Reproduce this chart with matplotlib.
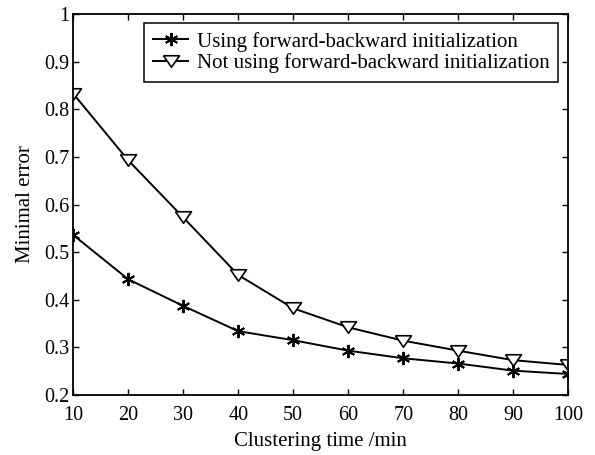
import numpy as np
import matplotlib
matplotlib.use('Agg')
import matplotlib.pyplot as plt

# Data
cluster_time = [10, 20, 30, 40, 50, 60, 70, 80, 90, 100]
err_fb_init = [0.536, 0.443, 0.387, 0.334, 0.315, 0.293, 0.277, 0.266, 0.251, 0.244]
err_no_fb_init = [0.833, 0.693, 0.573, 0.452, 0.382, 0.342, 0.314, 0.293, 0.273, 0.263]
label_fb = 'Using forward-backward initialization'
label_no_fb = 'Not using forward-backward initialization'
x_ticks = [10, 20, 30, 40, 50, 60, 70, 80, 90, 100]
y_ticks = [0.2, 0.3, 0.4, 0.5, 0.6, 0.7, 0.8, 0.9, 1.0]
y_tick_labels = ['0.2', '0.3', '0.4', '0.5', '0.6', '0.7', '0.8', '0.9', '1']

plt.rcParams['font.family'] = ['Liberation Serif', 'DejaVu Serif']

# wide, flat triangle like the original
tri_marker = [(-1.0, 0.72), (1.0, 0.72), (0.0, -0.72), (-1.0, 0.72)]

fig = plt.figure(figsize=(5.95, 4.55), dpi=100)
ax = fig.add_axes([0.123, 0.132, 0.832, 0.837])

ax.plot(cluster_time, err_fb_init, color='black', linewidth=1.4,
        marker=(6, 2, 0), markersize=9.5, markeredgewidth=1.4, label=label_fb)
ax.plot(cluster_time, err_no_fb_init, color='black', linewidth=1.4,
        marker=tri_marker, markersize=11.5, markerfacecolor='white',
        markeredgewidth=1.2, label=label_no_fb)

ax.set_xlim(10, 100)
ax.set_ylim(0.2, 1.0)
ax.set_xticks(x_ticks)
ax.set_yticks(y_ticks)
ax.set_yticklabels(y_tick_labels)
ax.tick_params(direction='in', top=True, right=True, length=4, width=1,
               labelsize=14.5)
ax.tick_params(axis='x', pad=8)
ax.tick_params(axis='y', pad=3)
for s in ax.spines.values():
    s.set_linewidth(1.3)

ax.set_xlabel('Clustering time /min', fontsize=15, labelpad=5)
ax.set_ylabel('Minimal error', fontsize=15, labelpad=6)

leg = ax.legend(loc='upper right', bbox_to_anchor=(0.980, 0.977), fontsize=15,
                fancybox=False, edgecolor='black', framealpha=1,
                handlelength=1.7, handletextpad=0.4, borderpad=0.42,
                labelspacing=0.08, borderaxespad=0)
leg.get_frame().set_linewidth(1.1)

fig.savefig('out.png', dpi=100)
